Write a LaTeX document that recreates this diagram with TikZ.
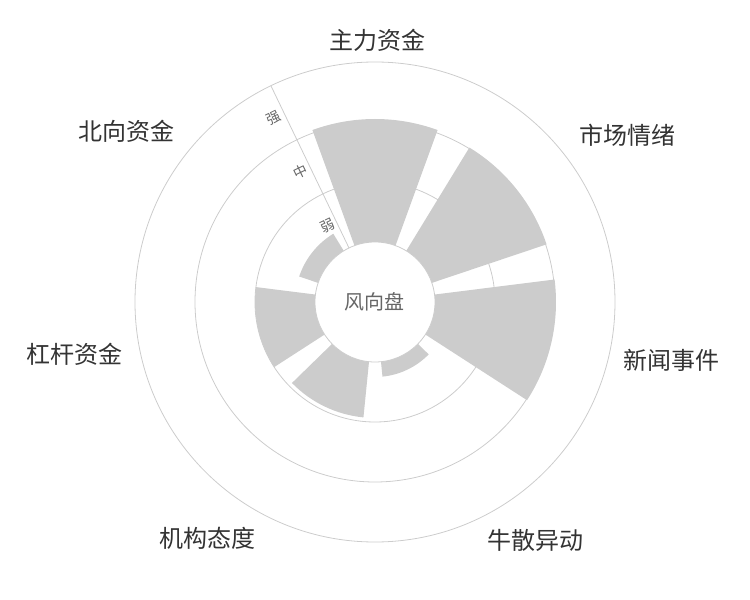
\documentclass[tikz,border=0pt]{standalone}
\usepackage{fontspec}
\setmainfont{Noto Sans CJK SC}
\begin{document}
\begin{tikzpicture}[
    x=0.75pt, y=0.75pt,
    every node/.style={font=\fontsize{18pt}{20pt}\selectfont, text=black!80},
    ring/.style={draw=black!20, line width=0.6pt},
    bar/.style={fill=black!20, draw=none},
    level/.style={font=\fontsize{10.5pt}{12pt}\selectfont, text=black!60, rotate=25.7}
]
\useasboundingbox (-375,-298) rectangle (375,302);

% Rings and axis
\foreach \r in {120,180,240}
    \draw[ring] (0,0) circle (\r);
\draw[ring] (115.7:60) -- (115.7:240);

% Bars
\foreach \k/\v in {0/183,1/181,2/181,3/75,4/116,5/120,6/80} {
    \pgfmathsetmacro{\a}{90-\k*360/7}
    \fill[bar] (\a+20:60) arc[start angle=\a+20, end angle=\a-20, radius=60]
        -- (\a-20:\v) arc[start angle=\a-20, end angle=\a+20, radius=\v] -- cycle;
}

% Centre
\node[circle, fill=white, draw=black!20, line width=0.6pt, minimum size=90pt,
    font=\fontsize{15pt}{17pt}\selectfont, text=black!60] (hub) at (0,0) {风向盘};

% Level labels
\node[level] (weak) at (122:90) {弱};
\node[level] (mid) at (120:150) {中};
\node[level] (strong) at (119:210) {强};

% Category labels
\node (zhuli) at (3,262) {主力资金};
\node (qingxu) at (252,167) {市场情绪};
\node (xinwen) at (296,-58) {新闻事件};
\node (niusan) at (161,-238) {牛散异动};
\node (jigou) at (-167,-236) {机构态度};
\node (ganggan) at (-300,-52) {杠杆资金};
\node (beixiang) at (-248,171) {北向资金};
\end{tikzpicture}
\end{document}
